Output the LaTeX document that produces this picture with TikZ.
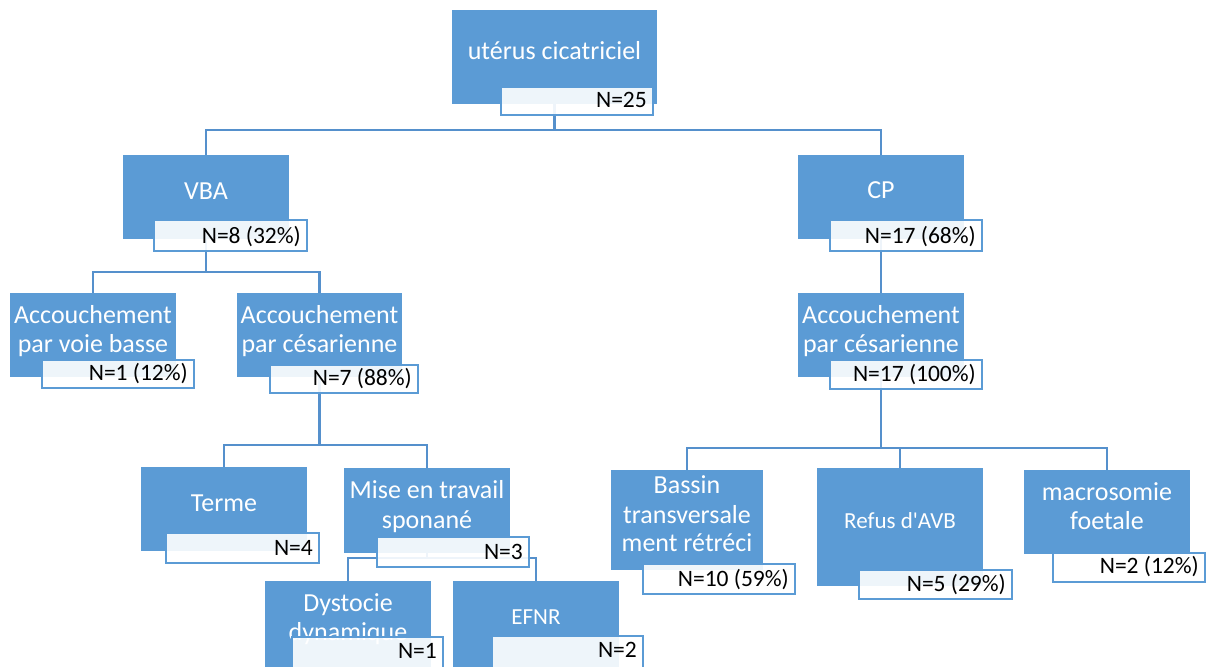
\documentclass[tikz,border=0pt]{standalone}
\usepackage{fontspec}
\setmainfont{Carlito}
\usetikzlibrary{fit,backgrounds}
\definecolor{boxblue}{HTML}{5B9BD5}
\definecolor{lineblue}{HTML}{5590CC}
\newcommand{\bluenode}[5]{\node[bluebox, fit={(#2,#3) (#4,#5)}] (#1) {};}
\newcommand{\labnode}[7]{%
  \node[labbox, fit={(#2,#3) (#4,#5)}] (#1) {};
  \node[labtext] (#1T) at ({#4-6},#6) {#7};}
\begin{document}
\begin{tikzpicture}[x=1pt,y=-1pt,
  bluebox/.style={fill=boxblue, draw=none, inner sep=0pt},
  labbox/.style={fill=white, fill opacity=0.9, draw=boxblue, line width=2pt, inner sep=0pt},
  maintext/.style={text=white, font=\fontsize{26}{29}\selectfont, inner sep=0pt, anchor=base},
  smalltext/.style={text=white, font=\fontsize{23}{26}\selectfont, inner sep=0pt, anchor=base},
  labtext/.style={text=black, font=\fontsize{23.5}{26}\selectfont, inner sep=0pt, anchor=base east},
  conn/.style={draw=lineblue, line width=2.5pt}]
\useasboundingbox (0,0) rectangle (1206,666);
\clip (0,0) rectangle (1206,666);

% root
\bluenode{root}{452}{10}{657}{104}
\node[maintext] (rootT) at (554.5,60) {utérus cicatriciel};
\labnode{rootL}{501}{87}{653}{115}{107}{N=25}

% level 1
\bluenode{vba}{123}{155}{289}{239}
\node[maintext] (vbaT) at (206,199) {VBA};
\labnode{vbaL}{154}{220}{307}{251}{243}{N=8 (32\%)}

\bluenode{cp}{798}{155}{964}{239}
\node[maintext] (cpT) at (881,198) {CP};
\labnode{cpL}{830}{220}{982}{251}{243}{N=17 (68\%)}

% level 2
\bluenode{avb}{10}{293}{176}{377}
\node[maintext] (avbT1) at (93,323) {Accouchement};
\node[maintext] (avbT2) at (93,352) {par voie basse};
\labnode{avbL}{42}{360}{194}{388}{380}{N=1 (12\%)}

\bluenode{lces}{237}{293}{402}{377}
\node[maintext] (lcesT1) at (319.5,323) {Accouchement};
\node[maintext] (lcesT2) at (319.5,352) {par césarienne};
\labnode{lcesL}{270}{365}{418}{393}{385}{N=7 (88\%)}

\bluenode{rces}{798}{293}{964}{377}
\node[maintext] (rcesT1) at (881,323) {Accouchement};
\node[maintext] (rcesT2) at (881,352) {par césarienne};
\labnode{rcesL}{830}{360}{982}{389}{381}{N=17 (100\%)}

% level 3 left
\bluenode{terme}{141}{467}{307}{551}
\node[maintext] (termeT) at (224,511) {Terme};
\labnode{termeL}{166}{533}{319}{563}{555}{N=4}

\bluenode{mise}{344}{468}{510}{553}
\node[maintext] (miseT1) at (427,498) {Mise en travail};
\node[maintext] (miseT2) at (427,528) {sponané};
\labnode{miseL}{377}{537}{529}{567}{559}{N=3}

% level 4 left
\bluenode{dyst}{265}{581}{431}{700}
\node[maintext] (dystT1) at (348,611) {Dystocie};
\node[maintext] (dystT2) at (348,640) {dynamique};
\labnode{dystL}{292}{637}{443}{700}{658}{N=1}

\bluenode{efnr}{453}{581}{619}{700}
\node[smalltext] (efnrT) at (536,624) {EFNR};
\labnode{efnrL}{492}{636}{643}{700}{657}{N=2}

% level 3 right
\bluenode{bassin}{611}{470}{763}{570}
\node[maintext] (bassinT1) at (687,493) {Bassin};
\node[maintext] (bassinT2) at (687,523) {transversale};
\node[maintext] (bassinT3) at (687,551) {ment rétréci};
\labnode{bassinL}{643}{564}{795}{594}{586}{N=10 (59\%)}

\bluenode{refus}{817}{468}{983}{586}
\node[smalltext] (refusT) at (900,528) {Refus d\textquotesingle AVB};
\labnode{refusL}{859}{570}{1012}{599}{591}{N=5 (29\%)}

\bluenode{macro}{1024}{470}{1190}{554}
\node[maintext] (macroT1) at (1107,500) {macrosomie};
\node[maintext] (macroT2) at (1107,529) {foetale};
\labnode{macroL}{1053}{553}{1205}{582}{573}{N=2 (12\%)}

% junction levels
\coordinate (j0) at (0,130);
\coordinate (j1) at (0,272);
\coordinate (j2) at (0,445);
\coordinate (j3) at (0,558);
\coordinate (j4) at (0,448);

\begin{scope}[on background layer]
\draw[conn] (root.south) -- (root.south |- j0);
\draw[conn] (vba.north) |- (cp.north |- j0) -- (cp.north);
\draw[conn] (vba.south) -- (vba.south |- j1);
\draw[conn] (avb.north) |- (lces.north |- j1) -- (lces.north);
\draw[conn] (cp.south) -- (rces.north);
\draw[conn] (lces.south) -- (lces.south |- j2);
\draw[conn] (terme.north) |- (mise.north |- j2) -- (mise.north);
\draw[conn] (mise.south) -- (mise.south |- j3);
\draw[conn] (dyst.north) |- (efnr.north |- j3) -- (efnr.north);
\draw[conn] (rces.south) -- (rces.south |- j4);
\draw[conn] (bassin.north) |- (macro.north |- j4) -- (macro.north);
\draw[conn] (refus.north) -- (refus.north |- j4);
\end{scope}
\end{tikzpicture}
\end{document}
